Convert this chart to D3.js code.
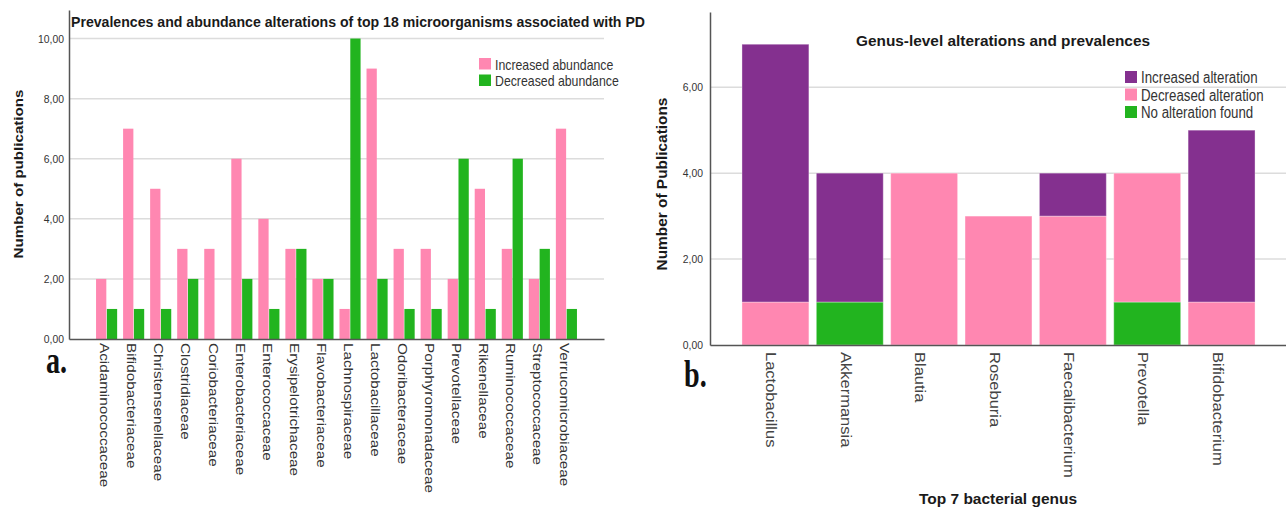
<!DOCTYPE html>
<html>
<head>
<meta charset="utf-8">
<script src="https://cdn.jsdelivr.net/npm/d3@7"></script>
<style>
  body { margin: 0; background: #fff; }
  svg { display: block; font-family: Arial, 'Liberation Sans', sans-serif; }
</style>
</head>
<body>
<div id="chart"></div>
<script>
// panel a: families
const families = ['Acidaminococcaceae', 'Bifidobacteriaceae', 'Christensenellaceae', 'Clostridiaceae',
  'Coriobacteriaceae', 'Enterobacteriaceae', 'Enterococcaceae', 'Erysipelotrichaceae', 'Flavobacteriaceae',
  'Lachnospiraceae', 'Lactobacillaceae', 'Odoribacteraceae', 'Porphyromonadaceae', 'Prevotellaceae',
  'Rikenellaceae', 'Ruminococcaceae', 'Streptococcaceae', 'Verrucomicrobiaceae'];
const increasedAbundance = [2, 7, 5, 3, 3, 6, 4, 3, 2, 1, 9, 3, 3, 2, 5, 3, 2, 7];
const decreasedAbundance = [1, 1, 1, 2, 0, 2, 1, 3, 2, 10, 2, 1, 1, 6, 1, 6, 3, 1];
const ticksA = [0, 2, 4, 6, 8, 10];

// panel b: genera (stacked, bottom to top)
const genera = ['Lactobacillus', 'Akkermansia', 'Blautia', 'Roseburia', 'Faecalibacterium', 'Prevotella', 'Bifidobacterium'];
const noAlteration = [0, 1, 0, 0, 0, 1, 0];
const decreasedAlteration = [1, 0, 4, 3, 3, 3, 1];
const increasedAlteration = [6, 3, 0, 0, 1, 0, 4];
const ticksB = [0, 2, 4, 6];

const pink = '#ff87b1', green = '#22b41f', purple = '#84308f';
const grid = '#dcdcdc', axisCol = '#555';

const loc = d3.formatLocale({decimal: ',', thousands: '.', grouping: [3], currency: ['', '']});
const fmt = loc.format('.2f');

// squeeze/stretch text along its own direction
function fit(sel, k) {
  sel.each(function() {
    const n = this.getComputedTextLength();
    this.setAttribute('textLength', n * k);
    this.setAttribute('lengthAdjust', 'spacingAndGlyphs');
  });
}

const svg = d3.select('#chart').append('svg')
  .attr('width', 1286)
  .attr('height', 512);

// ---------- panel a ----------
const xA = d3.scaleBand().domain(families).range([69, 604]).paddingInner(0.22).paddingOuter(1.0);
const xA1 = d3.scaleBand().domain(['inc', 'dec']).range([0, xA.bandwidth()]).paddingInner(0.05);
const yA = d3.scaleLinear().domain([0, 10.95]).range([339, 10]);

svg.append('g')
  .selectAll('line')
  .data(ticksA.slice(1))
  .enter().append('line')
  .attr('x1', 69).attr('x2', 604)
  .attr('y1', d => yA(d)).attr('y2', d => yA(d))
  .attr('stroke', grid).attr('stroke-width', 1.5);

const groupsA = svg.append('g').selectAll('g')
  .data(families.map((f, i) => ({f, inc: increasedAbundance[i], dec: decreasedAbundance[i]})))
  .enter().append('g')
  .attr('transform', d => 'translate(' + xA(d.f) + ',0)');

groupsA.selectAll('rect')
  .data(d => [{k: 'inc', v: d.inc}, {k: 'dec', v: d.dec}].filter(e => e.v > 0))
  .enter().append('rect')
  .attr('x', d => xA1(d.k))
  .attr('width', xA1.bandwidth())
  .attr('y', d => yA(d.v))
  .attr('height', d => yA(0) - yA(d.v))
  .attr('fill', d => d.k === 'inc' ? pink : green);

const yAxisA = svg.append('g')
  .attr('transform', 'translate(69,0)')
  .call(d3.axisLeft(yA).tickValues(ticksA).tickFormat(fmt).tickSize(0).tickSizeOuter(0).tickPadding(5));
yAxisA.select('.domain').attr('stroke', axisCol).attr('stroke-width', 1.5);
yAxisA.selectAll('text').attr('font-size', 11.5).attr('fill', '#333').call(fit, 0.9);

const xAxisA = svg.append('g')
  .attr('transform', 'translate(0,339)')
  .call(d3.axisBottom(xA).tickSize(0).tickSizeOuter(0));
xAxisA.select('.domain').attr('stroke', axisCol).attr('stroke-width', 1.5);
xAxisA.selectAll('text')
  .attr('transform', 'rotate(90)')
  .attr('x', 4).attr('y', 0).attr('dy', '0.5em')
  .attr('text-anchor', 'start')
  .attr('font-size', 12.5).attr('fill', '#333')
  .call(fit, 1.22);

svg.append('text')
  .attr('x', 71).attr('y', 27)
  .attr('font-size', 14).attr('font-weight', 'bold').attr('fill', '#1a1a1a')
  .attr('textLength', 574).attr('lengthAdjust', 'spacingAndGlyphs')
  .text('Prevalences and abundance alterations of top 18 microorganisms associated with PD');

svg.append('text')
  .attr('transform', 'translate(23,174) rotate(-90)')
  .attr('text-anchor', 'middle')
  .attr('font-size', 13.5).attr('font-weight', 'bold').attr('fill', '#1a1a1a')
  .text('Number of publications')
  .call(fit, 1.12);

const legA = [{label: 'Increased abundance', c: pink}, {label: 'Decreased abundance', c: green}];
const legAg = svg.append('g').selectAll('g').data(legA).enter().append('g')
  .attr('transform', (d, i) => 'translate(479,' + (58 + i * 16.5) + ')');
legAg.append('rect').attr('width', 12).attr('height', 11.5).attr('fill', d => d.c);
legAg.append('text').attr('x', 16).attr('y', 11.5)
  .attr('font-size', 15).attr('fill', '#333').text(d => d.label).call(fit, 0.82);

svg.append('text')
  .attr('x', 46).attr('y', 373)
  .attr('font-family', "'Liberation Serif', 'DejaVu Serif', serif")
  .attr('font-size', 38).attr('font-weight', 'bold').attr('fill', '#111')
  .text('a.')
  .call(fit, 0.74);

// ---------- panel b ----------
const xB = d3.scaleBand().domain(genera).range([710, 1287]).paddingInner(0.1).paddingOuter(0.43);
const yB = d3.scaleLinear().domain([0, 7.75]).range([345, 12]);

svg.append('g')
  .selectAll('line')
  .data(ticksB.slice(1))
  .enter().append('line')
  .attr('x1', 710).attr('x2', 1286)
  .attr('y1', d => yB(d)).attr('y2', d => yB(d))
  .attr('stroke', grid).attr('stroke-width', 1.5);

const keysB = ['none', 'dec', 'inc'];
const colB = {none: green, dec: pink, inc: purple};
const rowsB = genera.map((g, i) => ({g, none: noAlteration[i], dec: decreasedAlteration[i], inc: increasedAlteration[i]}));
const stackB = d3.stack().keys(keysB)(rowsB);

svg.append('g').selectAll('g')
  .data(stackB)
  .enter().append('g')
  .attr('fill', d => colB[d.key])
  .selectAll('rect')
  .data(d => d.filter(s => s[1] > s[0]))
  .enter().append('rect')
  .attr('x', d => xB(d.data.g))
  .attr('width', xB.bandwidth())
  .attr('y', d => yB(d[1]))
  .attr('height', d => yB(d[0]) - yB(d[1]))
  .attr('stroke', '#fff').attr('stroke-opacity', 0.35).attr('stroke-width', 1);

const yAxisB = svg.append('g')
  .attr('transform', 'translate(710,0)')
  .call(d3.axisLeft(yB).tickValues(ticksB).tickFormat(fmt).tickSize(0).tickSizeOuter(0).tickPadding(7));
yAxisB.select('.domain').attr('stroke', axisCol).attr('stroke-width', 1.5);
yAxisB.selectAll('text').attr('font-size', 11.5).attr('fill', '#333').call(fit, 0.9);

const xAxisB = svg.append('g')
  .attr('transform', 'translate(0,345)')
  .call(d3.axisBottom(xB).tickSize(0).tickSizeOuter(0));
xAxisB.select('.domain').attr('stroke', axisCol).attr('stroke-width', 1.5);
xAxisB.selectAll('text')
  .attr('transform', 'rotate(90)')
  .attr('x', 7).attr('y', 0).attr('dy', '0.6em')
  .attr('text-anchor', 'start')
  .attr('font-size', 15).attr('fill', '#444')
  .call(fit, 1.1);

svg.append('text')
  .attr('x', 856).attr('y', 46)
  .attr('font-size', 15.5).attr('font-weight', 'bold').attr('fill', '#1a1a1a')
  .attr('textLength', 294).attr('lengthAdjust', 'spacingAndGlyphs')
  .text('Genus-level alterations and prevalences');

svg.append('text')
  .attr('transform', 'translate(667,184) rotate(-90)')
  .attr('text-anchor', 'middle')
  .attr('font-size', 14).attr('font-weight', 'bold').attr('fill', '#1a1a1a')
  .text('Number of Publications')
  .call(fit, 1.1);

svg.append('text')
  .attr('x', 998).attr('y', 504)
  .attr('text-anchor', 'middle')
  .attr('font-size', 15.5).attr('font-weight', 'bold').attr('fill', '#1a1a1a')
  .text('Top 7 bacterial genus');

const legB = [{label: 'Increased alteration', c: purple}, {label: 'Decreased alteration', c: pink}, {label: 'No alteration found', c: green}];
const legBg = svg.append('g').selectAll('g').data(legB).enter().append('g')
  .attr('transform', (d, i) => 'translate(1125,' + (71 + i * 17.5) + ')');
legBg.append('rect').attr('width', 12).attr('height', 12).attr('fill', d => d.c);
legBg.append('text').attr('x', 16).attr('y', 12)
  .attr('font-size', 16).attr('fill', '#333').text(d => d.label).call(fit, 0.83);

svg.append('text')
  .attr('x', 684).attr('y', 387)
  .attr('font-family', "'Liberation Serif', 'DejaVu Serif', serif")
  .attr('font-size', 38).attr('font-weight', 'bold').attr('fill', '#111')
  .text('b.')
  .call(fit, 0.74);
</script>
</body>
</html>
